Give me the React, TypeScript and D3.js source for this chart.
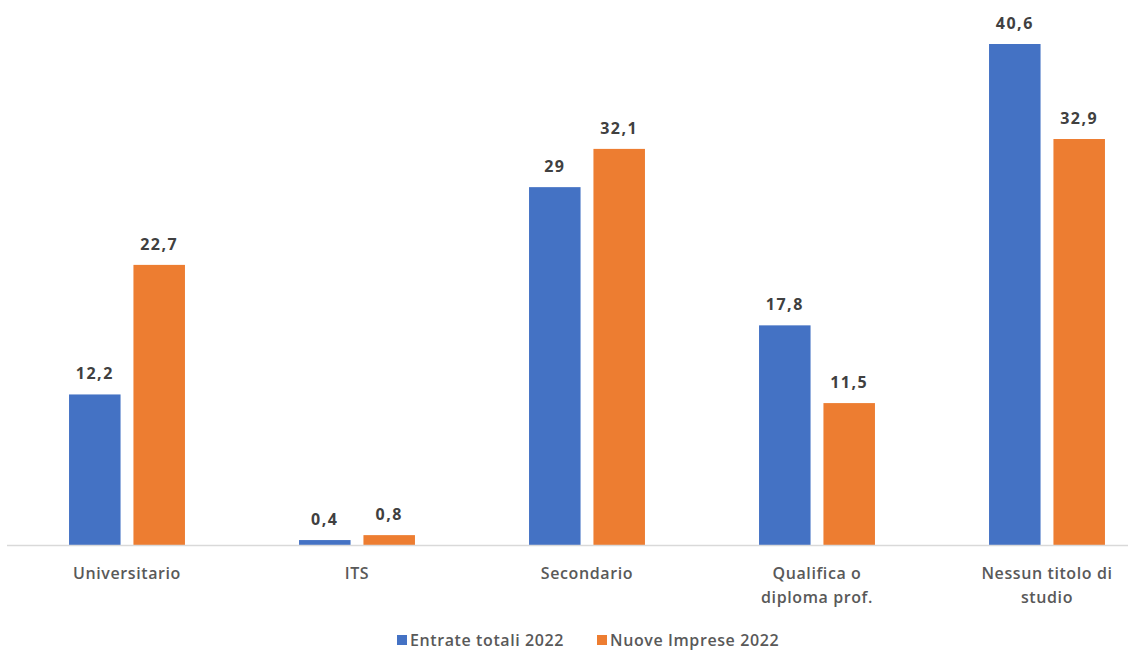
import React from "react";
import * as d3 from "d3";

const categories: string[][] = [
  ["Universitario"],
  ["ITS"],
  ["Secondario"],
  ["Qualifica o", "diploma prof."],
  ["Nessun titolo di", "studio"],
];
const seriesNames = ["Entrate totali 2022", "Nuove Imprese 2022"];
const entrateTotali = [12.2, 0.4, 29, 17.8, 40.6];
const nuoveImprese = [22.7, 0.8, 32.1, 11.5, 32.9];
const colors = ["#4472C4", "#ED7D31"];

const W = 1129;
const H = 652;

export default function App() {
  const catKeys = categories.map((c) => c.join(" "));
  const x0 = d3
    .scaleBand<string>()
    .domain(catKeys)
    .range([12, 1162])
    .paddingInner(0.496)
    .paddingOuter(0.248);
  const x1 = d3
    .scaleBand<string>()
    .domain(seriesNames)
    .range([0, x0.bandwidth()])
    .paddingInner(0.2);
  const y = d3.scaleLinear().domain([0, 40.6]).range([545, 44]);
  const series = [entrateTotali, nuoveImprese];
  const fmt = (v: number) => String(v).replace(".", ",");
  const font = "'Open Sans', 'Noto Sans', sans-serif";

  return (
    <svg
      width={W}
      height={H}
      style={{ position: "absolute", left: 0, top: 0, background: "#fff" }}
      fontFamily={font}
    >
      <rect width={W} height={H} fill="#fff" />
      {series.map((vals, si) =>
        vals.map((v, ci) => {
          const bx = (x0(catKeys[ci]) ?? 0) + (x1(seriesNames[si]) ?? 0);
          const bw = x1.bandwidth();
          return (
            <g key={`${si}-${ci}`}>
              <rect
                x={bx}
                y={y(v)}
                width={bw}
                height={y(0) - y(v)}
                fill={colors[si]}
              />
              <text
                x={bx + bw / 2}
                y={y(v) - 15}
                textAnchor="middle"
                fontSize={16}
                fontWeight={700}
                letterSpacing={1.5}
                fill="#404040"
              >
                {fmt(v)}
              </text>
            </g>
          );
        })
      )}
      <line x1={7} x2={1128} y1={y(0) + 0.5} y2={y(0) + 0.5} stroke="#d9d9d9" strokeWidth={1.5} />
      {categories.map((lines, ci) => {
        const cx = (x0(catKeys[ci]) ?? 0) + x0.bandwidth() / 2;
        return (
          <text
            key={ci}
            x={cx}
            textAnchor="middle"
            fontSize={16}
            fontWeight={600}
            letterSpacing={0.6}
            fill="#595959"
          >
            {lines.map((l, li) => (
              <tspan key={li} x={cx} y={579 + li * 24}>
                {l}
              </tspan>
            ))}
          </text>
        );
      })}
      {seriesNames.map((name, si) => {
        const lx = [397, 597][si];
        return (
          <g key={name}>
            <rect x={lx} y={635} width={10} height={10} fill={colors[si]} />
            <text x={lx + 13} y={646} fontSize={16} fontWeight={600} letterSpacing={0.6} fill="#595959">
              {name}
            </text>
          </g>
        );
      })}
    </svg>
  );
}
